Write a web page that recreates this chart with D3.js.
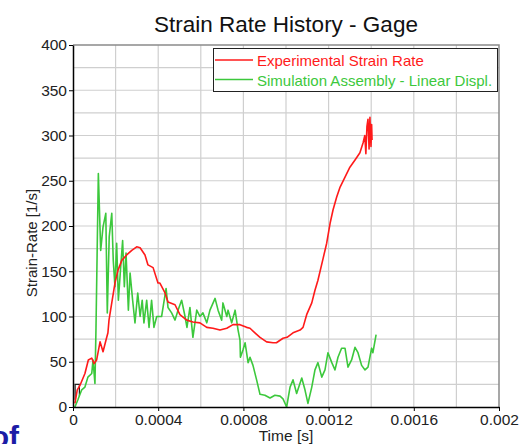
<!DOCTYPE html>
<html>
<head>
<meta charset="utf-8">
<script src="https://cdn.jsdelivr.net/npm/d3@7"></script>
<style>
   html, body { margin: 0; padding: 0; background: #fff; }
   svg { display: block; font-family: "Liberation Sans", Arial, sans-serif; }
</style>
</head>
<body>
<svg class="strain-chart" width="527" height="444"></svg>
<script>
// times in microseconds, rates in 1/s
const expTime = [9, 20, 33, 56, 72, 88, 99, 111, 127, 141, 155, 164, 169, 182, 197, 211, 229, 252, 276, 299,
   315, 338, 352, 376, 399, 408, 432, 446, 479, 502, 534, 563, 596, 628, 657, 690, 722, 751, 784, 815,
   831, 854, 878, 909, 939, 955, 986, 1005, 1033, 1066, 1080, 1097, 1121, 1136, 1150, 1174, 1191, 1207, 1221, 1238,
   1254, 1277, 1300, 1324, 1347, 1362, 1370, 1375, 1380, 1385, 1390, 1394, 1399, 1402, 1404];
const expRate = [4, 19, 24, 37, 52, 54, 48, 52, 72, 61, 74, 82, 96, 115, 137, 151, 162, 168, 173, 177,
   176, 168, 157, 154, 137, 137, 126, 116, 113, 102, 96, 94, 93, 88, 87, 85, 87, 91, 91, 88,
   87, 82, 77, 72, 71, 71, 76, 77, 82, 85, 88, 102, 115, 129, 140, 164, 181, 203, 218, 232,
   243, 254, 265, 273, 281, 292, 300, 280, 310, 318, 285, 320, 288, 312, 295];

const simTime = [9, 23, 41, 56, 70, 88, 94, 103, 108, 119, 130, 141, 154, 161, 170, 182, 189, 197, 205, 213,
   224, 233, 241, 249, 260, 268, 280, 291, 304, 315, 325, 333, 346, 357, 369, 380, 393, 405, 416, 437,
   446, 463, 479, 493, 510, 526, 535, 549, 563, 581, 596, 610, 628, 643, 667, 681, 698, 704, 722, 728,
   745, 761, 775, 784, 786, 798, 808, 822, 831, 845, 862, 878, 901, 925, 948, 972, 986, 1003, 1019, 1033,
   1050, 1074, 1089, 1103, 1121, 1136, 1150, 1168, 1183, 1197, 1215, 1230, 1244, 1261, 1277, 1291, 1308, 1324, 1338, 1355,
   1371, 1385, 1402, 1408, 1423];
const simRate = [0, 8, 19, 22, 33, 37, 52, 26, 88, 258, 173, 199, 214, 104, 188, 214, 162, 133, 181, 118,
   155, 184, 133, 170, 107, 148, 118, 93, 126, 100, 118, 93, 118, 88, 118, 88, 100, 100, 100, 131,
   110, 104, 96, 107, 118, 100, 88, 110, 77, 107, 100, 104, 93, 107, 120, 107, 96, 115, 100, 107,
   93, 107, 85, 74, 55, 63, 71, 49, 55, 46, 30, 14, 13, 10, 13, 12, 9, 0, 22, 30,
   15, 32, 19, 4, 22, 41, 49, 33, 41, 60, 49, 41, 55, 65, 65, 44, 52, 66, 60, 46,
   41, 44, 65, 60, 80];

// small black step at the origin
const stepTime = [10, 10, 30, 30];
const stepRate = [8, 25, 25, 12];

const xTicks = [0, 0.0004, 0.0008, 0.0012, 0.0016, 0.002];
const xTickLabels = ["0", "0.0004", "0.0008", "0.0012", "0.0016", "0.002"];
const yTicks = [0, 50, 100, 150, 200, 250, 300, 350, 400];
const seriesNames = ["Experimental Strain Rate", "Simulation Assembly - Linear Displ."];
const seriesColors = ["#ff1a1a", "#3cc83c"];

const plotLeft = 73, plotRight = 499, plotTop = 45, plotBottom = 407;

const svg = d3.select("svg.strain-chart");

const xScale = d3.scaleLinear().domain([0, 0.002]).range([plotLeft, plotRight]);
const yScale = d3.scaleLinear().domain([0, 400]).range([plotBottom, plotTop]);

// grid
svg.append("g").selectAll("line")
   .data(d3.range(1, 10).map(i => i * 0.0002))
   .join("line")
   .attr("x1", d => xScale(d)).attr("x2", d => xScale(d))
   .attr("y1", plotTop).attr("y2", plotBottom)
   .attr("stroke", "#cfcfcf").attr("stroke-width", 1.2);

svg.append("g").selectAll("line")
   .data(d3.range(1, 16).map(i => i * 25))
   .join("line")
   .attr("x1", plotLeft).attr("x2", plotRight)
   .attr("y1", d => yScale(d)).attr("y2", d => yScale(d))
   .attr("stroke", "#cfcfcf").attr("stroke-width", 1.2);

// frame top / right
svg.append("path")
   .attr("d", `M${plotLeft},${plotTop}H${plotRight}V${plotBottom}`)
   .attr("fill", "none")
   .attr("stroke", "#8a8a8a")
   .attr("stroke-width", 1.5);

// series
const line = d3.line().x(d => xScale(d[0] * 1e-6)).y(d => yScale(d[1]));

svg.append("path")
   .datum(stepTime.map((t, i) => [t, stepRate[i]]))
   .attr("d", line)
   .attr("fill", "none").attr("stroke", "#222").attr("stroke-width", 1.2);

svg.append("path")
   .datum(simTime.map((t, i) => [t, simRate[i]]))
   .attr("d", line)
   .attr("fill", "none").attr("stroke", seriesColors[1]).attr("stroke-width", 1.6)
   .attr("stroke-linejoin", "round");

svg.append("path")
   .datum(expTime.map((t, i) => [t, expRate[i]]))
   .attr("d", line)
   .attr("fill", "none").attr("stroke", seriesColors[0]).attr("stroke-width", 1.6)
   .attr("stroke-linejoin", "round");

// axes
const yAxis = svg.append("g")
   .attr("transform", `translate(${plotLeft},0)`)
   .call(d3.axisLeft(yScale).tickValues(yTicks).tickSize(4).tickSizeOuter(0).tickPadding(2));

const xAxis = svg.append("g")
   .attr("transform", `translate(0,${plotBottom})`)
   .call(d3.axisBottom(xScale).tickValues(xTicks).tickSize(4).tickSizeOuter(0).tickPadding(3)
      .tickFormat((d, i) => xTickLabels[i]));

[xAxis, yAxis].forEach(a => {
   a.select(".domain").attr("stroke", "#000").attr("stroke-width", 1.5);
   a.selectAll(".tick line").attr("stroke", "#000");
   a.selectAll("text")
      .attr("fill", "#222")
      .style("font-family", "'Liberation Sans', Arial, sans-serif")
      .style("font-size", "15.5px");
});

// titles
svg.append("text")
   .attr("x", 286).attr("y", 32)
   .attr("text-anchor", "middle")
   .attr("fill", "#111")
   .style("font-size", "22.5px")
   .text("Strain Rate History - Gage");

svg.append("text")
   .attr("x", 286).attr("y", 441)
   .attr("text-anchor", "middle")
   .attr("fill", "#222")
   .style("font-size", "15.5px")
   .text("Time [s]");

svg.append("text")
   .attr("transform", "translate(37,243) rotate(-90)")
   .attr("text-anchor", "middle")
   .attr("fill", "#222")
   .style("font-size", "15px")
   .text("Strain-Rate [1/s]");

// legend
const legend = svg.append("g");
legend.append("rect")
   .attr("x", 213.5).attr("y", 48.5).attr("width", 284).attr("height", 43)
   .attr("fill", "#fff").attr("stroke", "#222").attr("stroke-width", 1);

legend.selectAll("g.item")
   .data(seriesNames)
   .join("g")
   .attr("class", "item")
   .attr("transform", (d, i) => `translate(0,${60 + i * 19.5})`)
   .each(function (d, i) {
      const g = d3.select(this);
      g.append("line")
         .attr("x1", 215).attr("x2", 253)
         .attr("stroke", seriesColors[i]).attr("stroke-width", 1.6);
      g.append("text")
         .attr("x", 257).attr("y", 6)
         .attr("fill", seriesColors[i])
         .style("font-size", "15px")
         .text(d);
   });

// stray text cut off at the bottom left, as in the source image
svg.append("text")
   .attr("x", 19).attr("y", 447)
   .attr("text-anchor", "end")
   .attr("fill", "#1c1ca6")
   .style("font-size", "30px")
   .style("font-weight", "bold")
   .text("of");
</script>
</body>
</html>
